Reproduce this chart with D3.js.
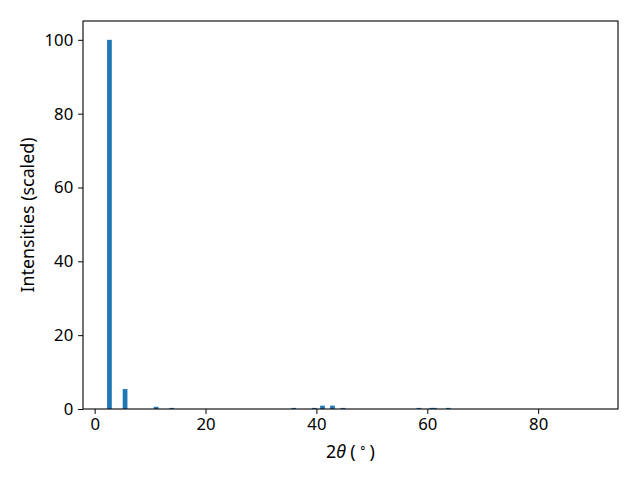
<!DOCTYPE html>
<html><head><meta charset="utf-8">
<script src="https://cdn.jsdelivr.net/npm/d3@7"></script>
<style>body{margin:0;background:#fff}svg{display:block}text{font-family:"Noto Sans",sans-serif}</style>
</head><body><svg id="c" width="640" height="480"></svg>
<script>
const twoTheta = [2.67, 5.49, 11.1, 13.9, 35.9, 39.6, 41.1, 42.9, 44.8, 58.5, 60.8, 61.3, 63.8];
const intensity = [100, 5.4, 0.6, 0.3, 0.3, 0.3, 0.9, 0.9, 0.3, 0.3, 0.3, 0.3, 0.3];
const xTicks = [0, 20, 40, 60, 80];
const yTicks = [0, 20, 40, 60, 80, 100];
const barWidth = 0.85;

const svg = d3.select("#c");
const L = 83, R = 618, T = 21, B = 409;
const x = d3.scaleLinear().domain([-2.1, 94.4]).range([L, R]);
const y = d3.scaleLinear().domain([0, 105.1]).range([B, T]);
const FS = "16.7px";
const LFS = "17.8px";

svg.append("g").selectAll("rect").data(twoTheta).join("rect")
  .attr("x", (d) => x(d - barWidth / 2))
  .attr("width", (d) => x(d + barWidth / 2) - x(d - barWidth / 2))
  .attr("y", (d, i) => y(intensity[i]))
  .attr("height", (d, i) => B - y(intensity[i]))
  .attr("fill", "#1f77b4");

const xa = svg.append("g").attr("transform", `translate(0,${B})`)
  .call(d3.axisBottom(x).tickValues(xTicks).tickSize(4.9).tickPadding(4.5));
const ya = svg.append("g").attr("transform", `translate(${L},0)`)
  .call(d3.axisLeft(y).tickValues(yTicks).tickSize(4.9).tickPadding(4.9));
[xa, ya].forEach(g => {
  g.select(".domain").remove();
  g.selectAll("text").attr("font-size", FS).attr("fill", "#000").attr("font-family", "Noto Sans");
  g.selectAll("line").attr("stroke", "#000").attr("stroke-width", 1);
});
svg.append("rect").attr("x", L).attr("y", T).attr("width", R - L).attr("height", B - T)
  .attr("fill", "none").attr("stroke", "#000").attr("stroke-width", 1.1);

const xl = svg.append("text").attr("x", (L + R) / 2).attr("y", 458).attr("text-anchor", "middle")
  .attr("font-size", LFS).attr("fill", "#000");
xl.append("tspan").text("2");
xl.append("tspan").attr("font-style", "italic").text("θ");
xl.append("tspan").text(" (\u2009");
xl.append("tspan").attr("font-size", "12px").attr("dy", -6).text("∘");
xl.append("tspan").attr("dy", 6).text("\u2009)");

svg.append("text").attr("transform", `translate(34,${(T + B) / 2}) rotate(-90)`)
  .attr("text-anchor", "middle").attr("font-size", LFS).attr("fill", "#000")
  .text("Intensities (scaled)");
</script></body></html>
